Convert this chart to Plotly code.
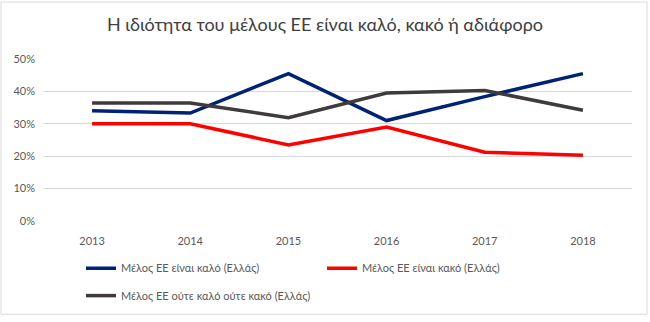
import plotly.graph_objects as go

years = ["2013", "2014", "2015", "2016", "2017", "2018"]
good = [0.34, 0.333, 0.455, 0.31, 0.384, 0.455]
bad = [0.30, 0.30, 0.235, 0.29, 0.212, 0.203]
neither = [0.364, 0.364, 0.319, 0.395, 0.403, 0.342]

names = ["Μέλος ΕΕ είναι καλό (Ελλάς)", "Μέλος ΕΕ είναι κακό (Ελλάς)",
         "Μέλος ΕΕ ούτε καλό ούτε κακό (Ελλάς)"]
colors = ["#002273", "#ff0000", "#3f3b3b"]
title = "Η ιδιότητα του μέλους ΕΕ είναι καλό, κακό ή αδιάφορο"
yticks = [0, 0.1, 0.2, 0.3, 0.4, 0.5]

W, H = 650, 322
ml, mr, mt, mb = 43, 18, 59, 98
pw, ph = W - ml - mr, H - mt - mb

fig = go.Figure()
for vals, name, col, lg in zip([good, bad, neither], names, colors,
                               ["legend", "legend", "legend2"]):
    fig.add_trace(go.Scatter(x=years, y=vals, name=name, mode="lines",
                             line=dict(color=col, width=3.5),
                             legend=lg))

font = "Lato, 'Open Sans', sans-serif"
legfont = dict(family=font, size=11, color="#595959")
fig.update_layout(
    width=W, height=H,
    margin=dict(l=ml, r=mr, t=mt, b=mb),
    paper_bgcolor="white", plot_bgcolor="white",
    font=dict(family=font, color="#595959"),
    title=dict(text=title, x=0.5, xanchor="center", y=1 - 25 / H,
               yanchor="middle",
               font=dict(family=font, size=18, color="#404040")),
    xaxis=dict(type="category", range=[-0.5, 5.5], showgrid=False,
               showline=False, zeroline=False, ticks="",
               tickfont=dict(size=11, color="#595959"),
               ticklabelstandoff=12),
    yaxis=dict(range=[0, 0.5], tickvals=yticks, tickformat=".0%",
               showgrid=True, gridcolor="#d9d9d9", gridwidth=1,
               zeroline=False, showline=False, ticks="",
               tickfont=dict(size=11, color="#595959"),
               ticklabelstandoff=7),
    legend=dict(orientation="h", x=(81 - ml) / pw, xanchor="left",
                y=-(272 - mt - ph) / ph, yanchor="middle",
                entrywidth=196, font=legfont, bgcolor="rgba(0,0,0,0)",
                itemwidth=30),
    legend2=dict(orientation="h", x=(81 - ml) / pw, xanchor="left",
                 y=-(300 - mt - ph) / ph, yanchor="middle",
                 font=legfont, bgcolor="rgba(0,0,0,0)", itemwidth=30),
    shapes=[dict(type="rect", xref="paper", yref="paper",
                 x0=(1 - ml) / pw, x1=(647 - ml) / pw,
                 y0=(H - 319 - mb) / ph, y1=(H - 1 - mb) / ph,
                 line=dict(color="#d9d9d9", width=1))],
)
fig.write_html("out.html")
